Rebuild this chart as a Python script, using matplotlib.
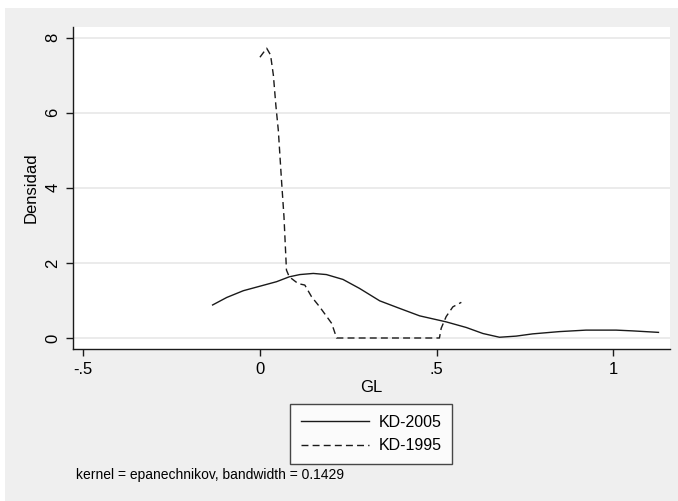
import matplotlib
matplotlib.use("Agg")
import matplotlib.pyplot as plt
from matplotlib.patches import Rectangle

plt.rcParams["font.family"] = ["Liberation Sans", "DejaVu Sans"]

# KD-2005 (solid)
gl_2005 = [-0.134, -0.094, -0.047, 0.0, 0.047, 0.083, 0.113, 0.151, 0.188, 0.235,
           0.282, 0.339, 0.395, 0.452, 0.527, 0.584, 0.631, 0.678, 0.725, 0.772,
           0.847, 0.923, 1.008, 1.054, 1.128]
dens_2005 = [0.88, 1.08, 1.26, 1.38, 1.50, 1.63, 1.69, 1.72, 1.69, 1.56,
             1.32, 0.99, 0.79, 0.59, 0.43, 0.28, 0.12, 0.02, 0.05, 0.11,
             0.17, 0.21, 0.21, 0.19, 0.15]

# KD-1995 (dashed)
gl_1995 = [0.0, 0.019, 0.030, 0.038, 0.045, 0.052, 0.061, 0.068, 0.075, 0.083,
           0.108, 0.127, 0.146, 0.169, 0.203, 0.217, 0.508, 0.513, 0.527, 0.546, 0.570]
dens_1995 = [7.48, 7.72, 7.54, 7.00, 6.20, 5.53, 4.20, 3.23, 1.81, 1.63,
             1.45, 1.41, 1.10, 0.83, 0.39, 0.0, 0.0, 0.26, 0.57, 0.83, 0.95]

xticks = [-0.5, 0, 0.5, 1]
xticklabels = ["-.5", "0", ".5", "1"]
yticks = [0, 2, 4, 6, 8]

W, H = 678, 501
fig = plt.figure(figsize=(W / 100, H / 100), dpi=100)
fig.patch.set_facecolor("white")
fig.patches.append(Rectangle((5 / W, 0), 1, 1 - 8 / H, transform=fig.transFigure,
                             facecolor="#efefef", edgecolor="none", zorder=-10))

ax = fig.add_axes([72.7 / W, 1 - 349.3 / H, (670 - 72.7) / W, (349.3 - 26.7) / H])
ax.set_facecolor("white")
ax.plot(gl_2005, dens_2005, color="#1a1a1a", lw=1.0, label="KD-2005")
ax.plot(gl_1995, dens_1995, color="#1a1a1a", lw=1.0, ls=(0, (5, 3)), label="KD-1995")

ax.set_xlim(-0.530, 1.1606)
ax.set_ylim(-0.301, 8.293)
ax.set_xticks(xticks)
ax.set_xticklabels(xticklabels)
ax.set_yticks(yticks)
ax.set_yticklabels([str(v) for v in yticks], rotation=90, va="center")
ax.grid(axis="y", color="#e8e8e8", lw=1.2)
ax.set_axisbelow(True)
for s in ["top", "right"]:
    ax.spines[s].set_visible(False)
for s in ["left", "bottom"]:
    ax.spines[s].set_color("#1a1a1a")
    ax.spines[s].set_linewidth(1.0)
ax.tick_params(axis="both", length=5, width=1, color="#1a1a1a", labelsize=12, pad=4)
ax.set_xlabel("GL", fontsize=12, labelpad=2)
ax.set_ylabel("Densidad", fontsize=12, labelpad=5)

leg = fig.legend(loc="upper center", bbox_to_anchor=(371.2 / W, 1 - 404.3 / H),
                 fontsize=11.5, frameon=True, fancybox=False, handlelength=4.3,
                 handletextpad=0.6, labelspacing=0.55, borderpad=0.65,
                 borderaxespad=0)
leg.get_frame().set_edgecolor("#1a1a1a")
leg.get_frame().set_linewidth(1.0)

fig.text(76 / W, 1 - 475 / H, "kernel = epanechnikov, bandwidth = 0.1429",
         fontsize=10, va="center", ha="left")

fig.savefig("out.png", dpi=100)
